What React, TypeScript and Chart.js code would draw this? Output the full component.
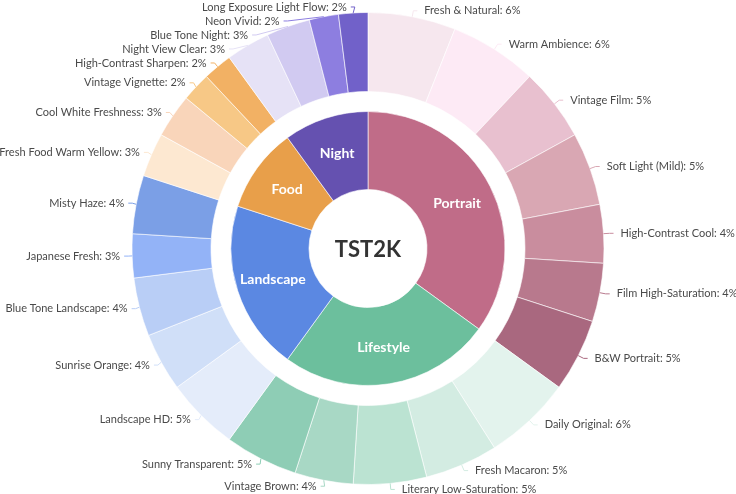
import React, { useEffect, useRef } from "react";
import { Chart, registerables } from "chart.js";

Chart.register(...registerables);

const centerTitle = "TST2K";

const innerNames = ["Portrait", "Lifestyle", "Landscape", "Food", "Night"];
const innerValues = [35, 25, 20, 10, 10];
const innerColors = ["#c06c88", "#6cbf9d", "#5b88e2", "#e89f4a", "#6551b0"];

const outerNames = [
  "Fresh & Natural", "Warm Ambience", "Vintage Film", "Soft Light (Mild)", "High-Contrast Cool", "Film High-Saturation", "B&W Portrait",
  "Daily Original", "Fresh Macaron", "Literary Low-Saturation", "Vintage Brown", "Sunny Transparent",
  "Landscape HD", "Sunrise Orange", "Blue Tone Landscape", "Japanese Fresh", "Misty Haze",
  "Fresh Food Warm Yellow", "Cool White Freshness", "Vintage Vignette", "High-Contrast Sharpen",
  "Night View Clear", "Blue Tone Night", "Neon Vivid", "Long Exposure Light Flow",
];
const outerValues = [
  6, 6, 5, 5, 4, 4, 5,
  6, 5, 5, 4, 5,
  5, 4, 4, 3, 4,
  3, 3, 2, 2,
  3, 3, 2, 2,
];
const outerColors = [
  "#f6e7ee", "#fdeaf5", "#e8c0cf", "#d9a7b3", "#c98d9e", "#b8798d", "#a9687f",
  "#e3f3ed", "#d3ece2", "#bbe3d2", "#a8d8c5", "#8ecdb5",
  "#e4ecfa", "#d0dff8", "#b9cef6", "#93b3f7", "#7b9fe6",
  "#fde8d1", "#f9d5ba", "#f7c886", "#f2b164",
  "#e6e2f6", "#d1caf1", "#8d7ee0", "#7161c9",
];

const labelPlugin = {
  id: "sunLabels",
  afterDatasetsDraw(chart: any) {
    const ctx = chart.ctx;
    const outerMeta = chart.getDatasetMeta(0);
    const innerMeta = chart.getDatasetMeta(2);
    const total = outerValues.reduce((a, b) => a + b, 0);
    const items: any[] = [];
    outerMeta.data.forEach((arc: any, i: number) => {
      const { x, y, startAngle, endAngle, outerRadius } = arc.getProps(
        ["x", "y", "startAngle", "endAngle", "outerRadius"], true);
      const mid = (startAngle + endAngle) / 2;
      const R2 = outerRadius + 6;
      const p1x = x + Math.cos(mid) * outerRadius;
      const p1y = y + Math.sin(mid) * outerRadius;
      const p2y = y + Math.sin(mid) * R2;
      const right = Math.cos(mid) >= 0;
      const pct = Math.round((outerValues[i] / total) * 100);
      items.push({ i, cx: x, cy: y, R2, p1x, p1y, ly: p2y, right,
        text: outerNames[i] + ": " + pct + "%", color: outerColors[i] });
    });
    const gapY = 14;
    [true, false].forEach((side) => {
      const list = items.filter((it) => it.right === side).sort((a, b) => a.ly - b.ly);
      for (let k = 1; k < list.length; k++) {
        if (list[k].ly < list[k - 1].ly + gapY) list[k].ly = list[k - 1].ly + gapY;
      }
    });
    ctx.save();
    ctx.font = "11px Lato";
    ctx.textBaseline = "middle";
    items.forEach((it) => {
      const dy = it.ly - it.cy;
      const dx = Math.sqrt(Math.max(it.R2 * it.R2 - dy * dy, 0));
      const x2 = it.cx + (it.right ? dx : -dx + 2);
      const x3 = x2 + (it.right ? 4 : -4);
      ctx.strokeStyle = it.color;
      ctx.lineWidth = 1;
      ctx.beginPath();
      ctx.moveTo(it.p1x, it.p1y);
      ctx.lineTo(x2, it.ly);
      ctx.lineTo(x3, it.ly);
      ctx.stroke();
      ctx.fillStyle = "#4a4a4a";
      ctx.textAlign = it.right ? "left" : "right";
      ctx.fillText(it.text, x3 + (it.right ? 7 : -4), it.ly);
    });
    // inner labels
    ctx.font = "bold 14px Lato";
    ctx.fillStyle = "#ffffff";
    ctx.textAlign = "center";
    innerMeta.data.forEach((arc: any, i: number) => {
      const { x, y, startAngle, endAngle } = arc.getProps(["x", "y", "startAngle", "endAngle"], true);
      const mid = (startAngle + endAngle) / 2;
      const r = 100;
      ctx.fillText(innerNames[i], x + Math.cos(mid) * r, y + Math.sin(mid) * r);
    });
    // center title
    const a0 = innerMeta.data[0];
    ctx.font = "bold 22px Lato";
    ctx.fillStyle = "#333333";
    ctx.fillText(centerTitle, a0.x, a0.y + 1);
    ctx.restore();
  },
};

export default function App() {
  const ref = useRef<HTMLCanvasElement | null>(null);
  useEffect(() => {
    if (!ref.current) return;
    const chart = new Chart(ref.current, {
      type: "doughnut",
      data: {
        labels: outerNames,
        datasets: [
          { data: outerValues, backgroundColor: outerColors, borderColor: "rgba(255,255,255,0.6)", borderWidth: 1, weight: 79 } as any,
          { data: [1], backgroundColor: "rgba(0,0,0,0)", borderWidth: 0, weight: 20 } as any,
          { data: innerValues, backgroundColor: innerColors, borderColor: "rgba(255,255,255,0.6)", borderWidth: 1, weight: 78 } as any,
        ],
      },
      options: {
        responsive: false,
        animation: false,
        radius: 236,
        cutout: "25%",
        layout: { padding: { top: 3 } },
        plugins: { legend: { display: false }, tooltip: { enabled: false } },
      } as any,
      plugins: [labelPlugin],
    });
    return () => chart.destroy();
  }, []);
  return (
    <div style={{ position: "absolute", left: 0, top: 0, width: 736, height: 494, background: "#fff" }}>
      <canvas ref={ref} width={736} height={494} style={{ display: "block" }} />
    </div>
  );
}
